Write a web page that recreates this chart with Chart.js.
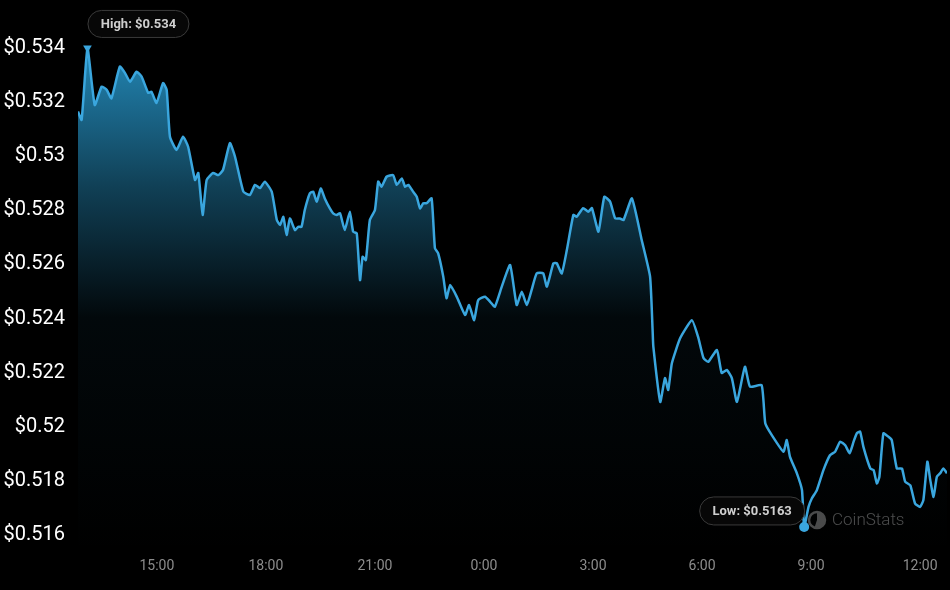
<!DOCTYPE html>
<html>
<head>
<meta charset="utf-8">
<script src="https://cdn.jsdelivr.net/npm/chart.js@4.4.1/dist/chart.umd.min.js"></script>
<style>
  html, body { margin: 0; padding: 0; background: #000; }
  #wrap { width: 950px; height: 590px; }
</style>
</head>
<body>
<div id="wrap"><canvas id="chart" width="950" height="590"></canvas></div>
<script>
// time in hours since midnight of the first day (24 = 0:00 next day)
const hours = [12.83,12.93,13.09,13.29,13.48,13.62,13.75,13.98,14.12,14.26,
  14.44,14.58,14.76,14.85,14.99,15.17,15.27,15.36,15.54,15.72,
  15.86,16.05,16.14,16.26,16.37,16.55,16.69,16.82,17.01,17.15,
  17.38,17.56,17.70,17.84,17.97,18.16,18.30,18.39,18.48,18.57,
  18.66,18.80,18.89,18.98,19.07,19.21,19.30,19.40,19.51,19.62,
  19.76,19.85,19.95,20.04,20.17,20.31,20.40,20.50,20.59,20.66,
  20.75,20.86,21.00,21.09,21.18,21.32,21.50,21.60,21.74,21.83,
  21.92,22.05,22.15,22.24,22.33,22.42,22.56,22.65,22.74,22.88,
  22.97,23.07,23.25,23.48,23.59,23.73,23.84,24.03,24.17,24.30,
  24.49,24.72,24.90,25.04,25.18,25.31,25.45,25.63,25.73,25.91,
  26.00,26.14,26.28,26.46,26.55,26.73,26.87,26.97,27.15,27.31,
  27.47,27.61,27.74,27.84,28.07,28.34,28.57,28.64,28.66,28.85,
  28.98,29.07,29.17,29.40,29.72,29.89,30.04,30.17,30.41,30.54,
  30.68,30.82,30.96,31.18,31.32,31.64,31.74,31.92,32.24,32.33,
  32.42,32.61,32.75,32.81,32.93,33.02,33.16,33.34,33.52,33.66,
  33.80,33.94,34.06,34.17,34.26,34.35,34.44,34.63,34.72,34.81,
  34.88,34.99,35.13,35.22,35.36,35.50,35.59,35.73,35.86,36.00,
  36.09,36.20,36.28,36.37,36.46,36.55,36.64,36.74]

const prices = [0.53165,0.53134,0.534,0.53189,0.53257,0.53245,0.53214,0.53331,0.53308,0.53275,
  0.53312,0.53294,0.53234,0.53238,0.53197,0.5327,0.53245,0.53072,0.53023,0.53072,
  0.53035,0.52912,0.52938,0.52783,0.52912,0.52938,0.5293,0.52949,0.53048,0.52998,
  0.52869,0.52857,0.52894,0.52882,0.52906,0.52869,0.52764,0.52746,0.52776,0.52709,
  0.5277,0.52727,0.52739,0.52739,0.52801,0.52863,0.52869,0.52832,0.52881,0.52844,
  0.52807,0.52789,0.52783,0.52789,0.52727,0.52795,0.52721,0.52715,0.52542,0.52628,
  0.52616,0.52764,0.52801,0.52906,0.52887,0.52924,0.5293,0.52894,0.52918,0.52887,
  0.52894,0.52869,0.5285,0.52807,0.52826,0.52826,0.52844,0.5266,0.52641,0.52555,
  0.52475,0.52524,0.52481,0.52413,0.5245,0.52394,0.52468,0.52481,0.52462,0.52444,
  0.52518,0.52598,0.5245,0.52499,0.5245,0.52505,0.52567,0.52567,0.52518,0.52604,
  0.52605,0.52567,0.52653,0.52783,0.52776,0.52808,0.52795,0.52808,0.52721,0.5285,
  0.52832,0.5277,0.5277,0.52764,0.52844,0.5269,0.52555,0.52357,0.52296,0.52092,
  0.5218,0.52136,0.52235,0.52328,0.52394,0.52333,0.52254,0.5224,0.52284,0.52199,
  0.5221,0.5218,0.52092,0.52222,0.52148,0.52154,0.52013,0.51969,0.51908,0.51951,
  0.51889,0.51828,0.51766,0.5163,0.51704,0.51735,0.51766,0.5184,0.51895,0.51908,
  0.51945,0.51932,0.51902,0.51945,0.51976,0.51982,0.51926,0.51846,0.5184,0.51791,
  0.51815,0.51976,0.51963,0.51951,0.51846,0.51846,0.51797,0.51784,0.51717,0.51704,
  0.51729,0.51871,0.51803,0.51741,0.51815,0.51828,0.51846,0.51828]

const hourTicks = [15, 18, 21, 24, 27, 30, 33, 36]
const priceTicks = [0.516, 0.518, 0.52, 0.522, 0.524, 0.526, 0.528, 0.53, 0.532, 0.534]

const hiIdx = prices.indexOf(Math.max(...prices))
const loIdx = prices.indexOf(Math.min(...prices))
const lineColor = '#3aa6de'

function pill(ctx, cx, cy, w, h, text) {
  const r = h / 2
  const x = cx - w / 2, y = cy - h / 2
  ctx.beginPath()
  ctx.moveTo(x + r, y)
  ctx.lineTo(x + w - r, y)
  ctx.arc(x + w - r, cy, r, -Math.PI / 2, Math.PI / 2)
  ctx.lineTo(x + r, y + h)
  ctx.arc(x + r, cy, r, Math.PI / 2, Math.PI * 1.5)
  ctx.closePath()
  ctx.fillStyle = '#070707'
  ctx.fill()
  ctx.lineWidth = 1
  ctx.strokeStyle = '#3a3a3a'
  ctx.stroke()
  ctx.fillStyle = '#cfcfcf'
  ctx.font = 'bold 13px Roboto'
  ctx.textAlign = 'center'
  ctx.textBaseline = 'middle'
  ctx.fillText(text, cx, cy + 1)
}

const labelsPlugin = {
  id: 'hiLo',
  beforeDatasetsDraw(chart) {
    // watermark
    const ctx = chart.ctx
    ctx.save()
    ctx.strokeStyle = '#4a4a4a'
    ctx.lineWidth = 2.5
    ctx.beginPath()
    ctx.arc(817, 520, 8, 0, Math.PI * 2)
    ctx.stroke()
    ctx.fillStyle = '#4a4a4a'
    ctx.beginPath()
    ctx.moveTo(817, 520)
    ctx.arc(817, 520, 8, -Math.PI / 2, Math.PI * 0.6)
    ctx.closePath()
    ctx.fill()
    ctx.font = '300 17px Roboto'
    ctx.fillStyle = '#4d4d4d'
    ctx.textAlign = 'left'
    ctx.textBaseline = 'middle'
    ctx.fillText('CoinStats', 832, 521)
    ctx.restore()
  },
  afterDatasetsDraw(chart) {
    const ctx = chart.ctx
    const pts = chart.getDatasetMeta(0).data
    const hi = pts[hiIdx], lo = pts[loIdx]
    ctx.save()
    pill(ctx, hi.x + 51, hi.y - 24, 101, 27, 'High: $' + prices[hiIdx].toFixed(3))
    pill(ctx, lo.x - 52, lo.y - 16, 105, 28, 'Low: $' + prices[loIdx].toFixed(4))
    ctx.restore()
  }
}

const ctx = document.getElementById('chart').getContext('2d')
const chart = new Chart(ctx, {
  type: 'line',
  data: {
    datasets: [{
      data: hours.map((h, i) => ({ x: h, y: prices[i] })),
      borderColor: lineColor,
      borderWidth: 2.5,
      tension: 0.15,
      fill: 'start',
      backgroundColor: function(c) {
        const area = c.chart.chartArea
        if (!area) return 'rgba(0,0,0,0)'
        const g = c.chart.ctx.createLinearGradient(0, area.top, 0, area.bottom)
        g.addColorStop(0, 'rgba(41,160,215,0.9)')
        g.addColorStop(0.3, 'rgba(41,160,215,0.4)')
        g.addColorStop(0.55, 'rgba(41,160,215,0.05)')
        g.addColorStop(1, 'rgba(41,160,215,0)')
        return g
      },
      pointRadius: c => (c.dataIndex === loIdx ? 5 : c.dataIndex === hiIdx ? 5 : 0),
      pointStyle: c => (c.dataIndex === hiIdx ? 'triangle' : 'circle'),
      rotation: c => (c.dataIndex === hiIdx ? 180 : 0),
      pointBackgroundColor: lineColor,
      pointBorderWidth: 0
    }]
  },
  options: {
    responsive: false,
    animation: false,
    layout: { padding: { top: 29, right: 3, left: 0, bottom: 0 } },
    plugins: { legend: { display: false }, tooltip: { enabled: false } },
    scales: {
      x: {
        type: 'linear',
        min: 12.83,
        max: 36.74,
        grid: { display: false, drawTicks: false },
        border: { display: false },
        afterBuildTicks: axis => { axis.ticks = hourTicks.map(v => ({ value: v })) },
        afterFit: axis => { axis.height = 36 },
        ticks: {
          padding: 4,
          maxRotation: 0,
          color: '#8c8c8c',
          font: { family: 'Roboto', size: 14 },
          callback: v => (v % 24) + ':00'
        }
      },
      y: {
        min: 0.5153,
        max: 0.5347,
        grid: { display: false, drawTicks: false },
        border: { display: false },
        afterBuildTicks: axis => { axis.ticks = priceTicks.map(v => ({ value: v })) },
        afterFit: axis => { axis.width = 78 },
        ticks: {
          padding: 13,
          color: '#ffffff',
          font: { family: 'Roboto', size: 20, weight: '400' },
          callback: v => '$' + parseFloat(v.toFixed(3))
        }
      }
    }
  },
  plugins: [labelsPlugin]
})
</script>
</body>
</html>
